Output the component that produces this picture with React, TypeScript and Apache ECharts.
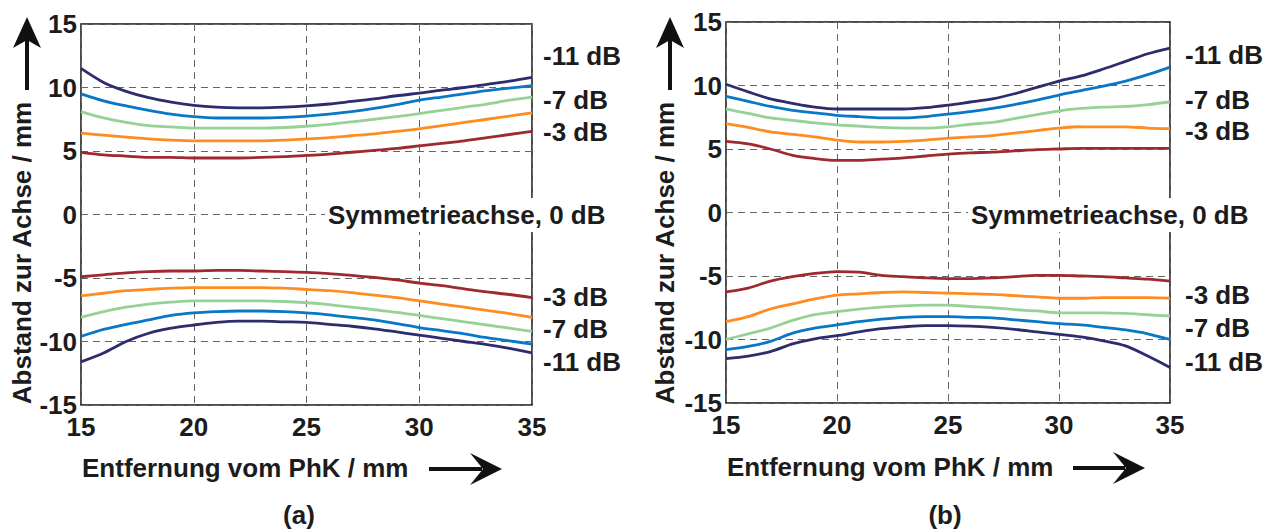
import React, { useEffect, useRef } from "react";
import * as echarts from "echarts";

// Entfernung vom PhK / mm
const xValues = [15, 16, 17, 18, 19, 20, 21, 22, 23, 24, 25, 26, 27, 28, 29, 30, 31, 32, 33, 34, 35];

// (a) upper contours
const aUp3 = [4.9, 4.7, 4.6, 4.5, 4.5, 4.45, 4.45, 4.45, 4.5, 4.55, 4.65, 4.75, 4.9, 5.05, 5.2, 5.4, 5.6, 5.8, 6.05, 6.3, 6.55];
const aUp5 = [6.4, 6.25, 6.1, 5.95, 5.85, 5.8, 5.8, 5.8, 5.8, 5.85, 5.95, 6.05, 6.2, 6.35, 6.55, 6.75, 7.0, 7.25, 7.5, 7.75, 8.0];
const aUp7 = [8.1, 7.6, 7.25, 7.0, 6.9, 6.8, 6.8, 6.8, 6.8, 6.85, 6.95, 7.1, 7.3, 7.5, 7.7, 7.95, 8.2, 8.45, 8.7, 9.0, 9.25];
const aUp9 = [9.5, 8.95, 8.55, 8.2, 7.9, 7.7, 7.6, 7.6, 7.6, 7.65, 7.75, 7.9, 8.1, 8.35, 8.65, 9.0, 9.25, 9.5, 9.75, 9.95, 10.15];
const aUp11 = [11.5, 10.4, 9.7, 9.2, 8.85, 8.6, 8.45, 8.4, 8.4, 8.45, 8.55, 8.7, 8.9, 9.1, 9.35, 9.55, 9.8, 10.0, 10.25, 10.5, 10.8];
// (a) lower contours
const aLo3 = [-4.9, -4.75, -4.6, -4.5, -4.45, -4.45, -4.4, -4.4, -4.45, -4.5, -4.55, -4.65, -4.8, -4.95, -5.15, -5.4, -5.6, -5.85, -6.1, -6.3, -6.55];
const aLo5 = [-6.4, -6.2, -6.0, -5.9, -5.8, -5.75, -5.75, -5.75, -5.75, -5.8, -5.9, -6.0, -6.15, -6.35, -6.55, -6.8, -7.05, -7.3, -7.55, -7.8, -8.1];
const aLo7 = [-8.1, -7.65, -7.3, -7.05, -6.9, -6.8, -6.8, -6.8, -6.8, -6.85, -6.95, -7.1, -7.3, -7.5, -7.7, -7.95, -8.2, -8.45, -8.7, -8.95, -9.2];
const aLo9 = [-9.6, -9.05, -8.65, -8.3, -7.95, -7.75, -7.65, -7.6, -7.6, -7.65, -7.75, -7.9, -8.1, -8.3, -8.6, -8.9, -9.15, -9.4, -9.7, -9.95, -10.2];
const aLo11 = [-11.6, -10.9, -10.0, -9.35, -8.95, -8.7, -8.5, -8.4, -8.4, -8.45, -8.5, -8.65, -8.8, -9.0, -9.25, -9.5, -9.75, -10.0, -10.25, -10.55, -10.9];

// (b) upper contours
const bUp3 = [5.6, 5.4, 5.0, 4.5, 4.25, 4.1, 4.1, 4.2, 4.3, 4.45, 4.6, 4.7, 4.75, 4.85, 4.95, 5.0, 5.05, 5.05, 5.05, 5.05, 5.05];
const bUp5 = [7.0, 6.7, 6.35, 6.15, 5.95, 5.7, 5.55, 5.55, 5.6, 5.7, 5.85, 5.95, 6.05, 6.25, 6.45, 6.65, 6.75, 6.75, 6.75, 6.65, 6.6];
const bUp7 = [8.15, 7.8, 7.45, 7.25, 7.05, 6.9, 6.8, 6.7, 6.65, 6.65, 6.75, 6.95, 7.1, 7.4, 7.7, 8.0, 8.2, 8.3, 8.35, 8.5, 8.7];
const bUp9 = [9.15, 8.75, 8.35, 8.05, 7.85, 7.65, 7.55, 7.45, 7.45, 7.55, 7.75, 7.95, 8.2, 8.5, 8.85, 9.25, 9.6, 9.95, 10.35, 10.85, 11.45];
const bUp11 = [10.1, 9.5, 8.95, 8.6, 8.3, 8.15, 8.15, 8.15, 8.15, 8.25, 8.45, 8.7, 8.95, 9.35, 9.85, 10.35, 10.75, 11.3, 11.9, 12.5, 12.95];
// (b) lower contours
const bLo3 = [-6.25, -5.95, -5.4, -5.05, -4.8, -4.65, -4.7, -4.95, -5.05, -5.15, -5.2, -5.2, -5.15, -5.05, -4.95, -4.95, -5.0, -5.05, -5.15, -5.25, -5.4];
const bLo5 = [-8.6, -8.2, -7.6, -7.2, -6.8, -6.5, -6.4, -6.3, -6.25, -6.3, -6.35, -6.4, -6.45, -6.55, -6.65, -6.75, -6.75, -6.7, -6.7, -6.7, -6.75];
const bLo7 = [-10.0, -9.55, -9.1, -8.5, -8.05, -7.8, -7.6, -7.45, -7.35, -7.3, -7.3, -7.4, -7.5, -7.65, -7.75, -7.9, -7.9, -7.9, -7.95, -8.05, -8.15];
const bLo9 = [-10.8, -10.55, -10.15, -9.5, -9.1, -8.85, -8.6, -8.4, -8.25, -8.2, -8.2, -8.25, -8.3, -8.45, -8.6, -8.75, -8.85, -9.05, -9.25, -9.55, -10.0];
const bLo11 = [-11.5, -11.3, -10.95, -10.35, -9.95, -9.7, -9.4, -9.15, -9.0, -8.9, -8.9, -8.95, -9.05, -9.2, -9.4, -9.6, -9.8, -10.1, -10.5, -11.3, -12.2];

const levelNames = ["-3 dB", "-5 dB", "-7 dB", "-9 dB", "-11 dB"];
const levelColors = ["#9e2a30", "#ff8c20", "#96d196", "#0878c6", "#2d2c6c"];

const panelA = [[aUp3, aLo3], [aUp5, aLo5], [aUp7, aLo7], [aUp9, aLo9], [aUp11, aLo11]];
const panelB = [[bUp3, bLo3], [bUp5, bLo5], [bUp7, bLo7], [bUp9, bLo9], [bUp11, bLo11]];

const xTicks = { min: 15, max: 35, interval: 5 };
const yTicks = { min: -15, max: 15, interval: 5 };

const FONT = '"Liberation Sans", Arial, Helvetica, sans-serif';
const TXT = "#1c1c1c";

function txt(text: string, x: number, y: number, extra: any = {}) {
  return {
    type: "text",
    x,
    y,
    z: 100,
    ...extra,
    style: {
      text,
      font: `bold 26px ${FONT}`,
      fill: TXT,
      align: "left",
      verticalAlign: "middle",
      ...(extra.style || {}),
    },
  };
}

export default function App() {
  const ref = useRef<HTMLDivElement>(null);

  useEffect(() => {
    if (!ref.current) return;
    const chart = echarts.init(ref.current, undefined, { renderer: "svg" });

    const axisX = (gridIndex: number) => ({
      type: "value",
      gridIndex,
      min: xTicks.min,
      max: xTicks.max,
      interval: xTicks.interval,
      axisLine: { show: false },
      axisTick: { show: false },
      axisLabel: { margin: 9, fontSize: 26, fontWeight: "bold", color: TXT, fontFamily: FONT },
      splitLine: { show: true, lineStyle: { color: "#666", width: 1, type: [7, 5] } },
    });
    const axisY = (gridIndex: number) => ({
      type: "value",
      gridIndex,
      min: yTicks.min,
      max: yTicks.max,
      interval: yTicks.interval,
      axisLine: { show: false },
      axisTick: { show: false },
      axisLabel: { margin: 4, fontSize: 26, fontWeight: "bold", color: TXT, fontFamily: FONT },
      splitLine: { show: true, lineStyle: { color: "#666", width: 1, type: [7, 5] } },
    });

    const series: any[] = [];
    [panelA, panelB].forEach((panel, gi) => {
      panel.forEach((pair, li) => {
        pair.forEach((vals, k) => {
          series.push({
            type: "line",
            name: `${levelNames[li]} ${k === 0 ? "oben" : "unten"}`,
            xAxisIndex: gi,
            yAxisIndex: gi,
            data: xValues.map((x, i) => [x, vals[i]]),
            showSymbol: false,
            smooth: 0.3,
            lineStyle: { color: levelColors[li], width: 2.8 },
            z: 3,
          });
        });
      });
    });

    const arrowUp = (x: number) => [
      { type: "line", z: 100, shape: { x1: x, y1: 90, x2: x, y2: 38 }, style: { stroke: "#111", lineWidth: 4 } },
      { type: "polygon", z: 100, shape: { points: [[x, 17], [x + 14, 48], [x, 40], [x - 14, 48]] }, style: { fill: "#111" } },
    ];
    const arrowRight = (x0: number, tip: number, y: number) => [
      { type: "line", z: 100, shape: { x1: x0, y1: y, x2: tip - 20, y2: y }, style: { stroke: "#111", lineWidth: 4 } },
      { type: "polygon", z: 100, shape: { points: [[tip, y], [tip - 32, y - 16], [tip - 19, y], [tip - 32, y + 16]] }, style: { fill: "#111" } },
    ];

    const graphic: any[] = [
      // panel (a)
      txt("-11 dB", 543, 56),
      txt("-7 dB", 543, 100),
      txt("-3 dB", 543, 132),
      txt("Symmetrieachse, 0 dB", 325, 215, { style: { backgroundColor: "#fff", padding: [4, 3, 4, 3] } }),
      txt("-3 dB", 543, 297),
      txt("-7 dB", 543, 329),
      txt("-11 dB", 543, 362),
      txt("Abstand zur Achse / mm", 22, 253, { rotation: Math.PI / 2, style: { align: "center" } }),
      txt("Entfernung vom PhK / mm", 82, 468),
      txt("(a)", 299, 515, { style: { align: "center" } }),
      ...arrowUp(27),
      ...arrowRight(429, 502, 469),
      // panel (b)
      txt("-11 dB", 1185, 55),
      txt("-7 dB", 1185, 100),
      txt("-3 dB", 1185, 131),
      txt("Symmetrieachse, 0 dB", 968, 215, { style: { backgroundColor: "#fff", padding: [4, 3, 4, 3] } }),
      txt("-3 dB", 1185, 295),
      txt("-7 dB", 1185, 328),
      txt("-11 dB", 1185, 362),
      txt("Abstand zur Achse / mm", 665, 253, { rotation: Math.PI / 2, style: { align: "center" } }),
      txt("Entfernung vom PhK / mm", 727, 467),
      txt("(b)", 945, 515, { style: { align: "center" } }),
      ...arrowUp(670),
      ...arrowRight(1073, 1145, 468),
    ];

    chart.setOption({
      animation: false,
      backgroundColor: "#fff",
      textStyle: { fontFamily: FONT },
      grid: [
        { left: 81, right: 1277 - 532, top: 24, bottom: 531 - 405, show: true, borderColor: "#111", borderWidth: 1.5, backgroundColor: "transparent" },
        { left: 726, right: 1277 - 1170, top: 22, bottom: 531 - 403, show: true, borderColor: "#111", borderWidth: 1.5, backgroundColor: "transparent" },
      ],
      xAxis: [axisX(0), axisX(1)],
      yAxis: [axisY(0), axisY(1)],
      series,
      graphic,
    });

    return () => chart.dispose();
  }, []);

  return (
    <div
      ref={ref}
      style={{ position: "absolute", left: 0, top: 0, width: 1277, height: 531, background: "#fff" }}
    />
  );
}
